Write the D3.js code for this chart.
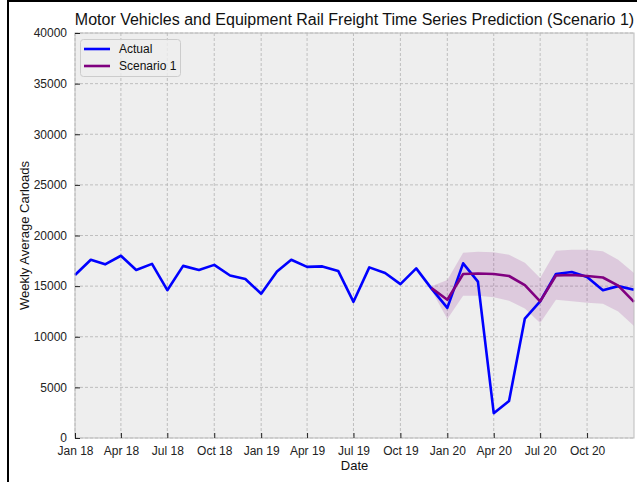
<!DOCTYPE html>
<html>
<head>
<meta charset="utf-8">
<script src="https://cdn.jsdelivr.net/npm/d3@7"></script>
<style>
  body { margin: 0; background: #fff; }
  svg { display: block; font-family: "Liberation Sans", Arial, sans-serif; }
</style>
</head>
<body>
<div id="chart"></div>
<script>
// canvas size
var w = 637;
var h = 482;

// monthly points, Jan 2018 .. Jan 2021
var months = ["2018-01","2018-02","2018-03","2018-04","2018-05","2018-06","2018-07","2018-08","2018-09","2018-10","2018-11","2018-12",
              "2019-01","2019-02","2019-03","2019-04","2019-05","2019-06","2019-07","2019-08","2019-09","2019-10","2019-11","2019-12",
              "2020-01","2020-02","2020-03","2020-04","2020-05","2020-06","2020-07","2020-08","2020-09","2020-10","2020-11","2020-12",
              "2021-01"];
var actual = [16100, 17600, 17150, 18000, 16600, 17200, 14600, 17000, 16600, 17100, 16050, 15700,
              14250, 16450, 17600, 16900, 16950, 16500, 13450, 16850, 16300, 15200, 16750, 14750,
              12850, 17250, 15450, 2450, 3650, 11800, 13500, 16200, 16400, 15900, 14600, 15000,
              14650];

// scenario 1 prediction starts at Dec 2019
var scenMonths = ["2019-12","2020-01","2020-02","2020-03","2020-04","2020-05","2020-06","2020-07","2020-08","2020-09","2020-10","2020-11","2020-12","2021-01"];
var scenario = [14800, 13650, 16200, 16250, 16200, 16000, 15100, 13500, 16050, 16100, 16000, 15850, 15050, 13450];
var scenUpper = [15000, 15600, 18300, 18400, 18350, 18100, 17300, 15800, 18500, 18600, 18600, 18450, 17600, 16300];
var scenLower = [14600, 11750, 14050, 14050, 13900, 13550, 12800, 11350, 13650, 13500, 13350, 13250, 12500, 11050];

// axis ticks
var xTicks = ["2018-01","2018-04","2018-07","2018-10","2019-01","2019-04","2019-07","2019-10","2020-01","2020-04","2020-07","2020-10"];
var yTicks = [0, 5000, 10000, 15000, 20000, 25000, 30000, 35000, 40000];

var parseMonth = d3.timeParse("%Y-%m");

// plot box
var pLeft = 75, pRight = 634, pTop = 33, pBottom = 438;

var x = d3.scaleTime()
  .domain([parseMonth("2018-01"), parseMonth("2021-01")])
  .range([pLeft, pRight]);

var y = d3.scaleLinear()
  .domain([0, 40000])
  .range([pBottom, pTop]);

var svg = d3.select("#chart")
  .append("svg")
  .attr("width", w)
  .attr("height", h);

// axes background
svg.append("rect")
  .attr("x", pLeft).attr("y", pTop)
  .attr("width", pRight - pLeft).attr("height", pBottom - pTop)
  .style("fill", "#eeeeee");

// grid
svg.append("g")
  .selectAll("line")
  .data(xTicks)
  .enter().append("line")
  .attr("x1", function(d) { return x(parseMonth(d)); })
  .attr("x2", function(d) { return x(parseMonth(d)); })
  .attr("y1", pTop).attr("y2", pBottom)
  .attr("stroke", "#b2b2b2").attr("stroke-width", 0.8)
  .attr("stroke-dasharray", "3,2");

svg.append("g")
  .selectAll("line")
  .data(yTicks)
  .enter().append("line")
  .attr("x1", pLeft).attr("x2", pRight)
  .attr("y1", function(d) { return y(d); })
  .attr("y2", function(d) { return y(d); })
  .attr("stroke", "#b2b2b2").attr("stroke-width", 0.8)
  .attr("stroke-dasharray", "3,2");

// confidence band
var band = scenMonths.map(function(m, i) {
  return { date: parseMonth(m), lo: scenLower[i], hi: scenUpper[i] };
});
svg.append("path")
  .datum(band)
  .attr("d", d3.area()
    .x(function(d) { return x(d.date); })
    .y0(function(d) { return y(d.lo); })
    .y1(function(d) { return y(d.hi); }))
  .style("fill", "#800080")
  .style("fill-opacity", 0.15);

// actual line
var actualData = months.map(function(m, i) { return [parseMonth(m), actual[i]]; });
var line = d3.line()
  .x(function(d) { return x(d[0]); })
  .y(function(d) { return y(d[1]); });

svg.append("path")
  .datum(actualData)
  .attr("d", line)
  .style("fill", "none")
  .style("stroke", "#0000ff")
  .style("stroke-width", 2.6)
  .style("stroke-linejoin", "round");

// scenario line
var scenData = scenMonths.map(function(m, i) { return [parseMonth(m), scenario[i]]; });
svg.append("path")
  .datum(scenData)
  .attr("d", line)
  .style("fill", "none")
  .style("stroke", "#800080")
  .style("stroke-width", 2.6)
  .style("stroke-linejoin", "round");

// spines
svg.append("rect")
  .attr("x", pLeft).attr("y", pTop)
  .attr("width", pRight - pLeft).attr("height", pBottom - pTop)
  .style("fill", "none")
  .style("stroke", "#bcbcbc")
  .style("stroke-width", 1);

// x axis (ticks inside)
var xAxis = d3.axisBottom(x)
  .tickValues(xTicks.map(parseMonth))
  .tickFormat(d3.timeFormat("%b %y"))
  .tickSizeInner(-5)
  .tickSizeOuter(0)
  .tickPadding(8);
var gx = svg.append("g")
  .attr("transform", "translate(0," + pBottom + ")")
  .call(xAxis);
gx.select(".domain").remove();
gx.selectAll("line").attr("stroke", "#222");
gx.selectAll("text").attr("font-size", "12px").attr("fill", "#222")
  .attr("font-family", "Liberation Sans, Arial, sans-serif");

// y axis (ticks inside)
var yAxis = d3.axisLeft(y)
  .tickValues(yTicks)
  .tickFormat(d3.format("d"))
  .tickSizeInner(-5)
  .tickSizeOuter(0)
  .tickPadding(8);
var gy = svg.append("g")
  .attr("transform", "translate(" + pLeft + ",0)")
  .call(yAxis);
gy.select(".domain").remove();
gy.selectAll("line").attr("stroke", "#222");
gy.selectAll("text").attr("font-size", "12px").attr("fill", "#222")
  .attr("font-family", "Liberation Sans, Arial, sans-serif");

// title and labels
svg.append("text")
  .attr("x", (pLeft + pRight) / 2)
  .attr("y", 25)
  .attr("text-anchor", "middle")
  .attr("font-size", "16px")
  .attr("fill", "#111")
  .text("Motor Vehicles and Equipment Rail Freight Time Series Prediction (Scenario 1)");

svg.append("text")
  .attr("x", (pLeft + pRight) / 2)
  .attr("y", 470)
  .attr("text-anchor", "middle")
  .attr("font-size", "13px")
  .attr("fill", "#111")
  .text("Date");

svg.append("text")
  .attr("transform", "translate(29," + ((pTop + pBottom) / 2) + ") rotate(-90)")
  .attr("text-anchor", "middle")
  .attr("font-size", "13px")
  .attr("fill", "#111")
  .text("Weekly Average Carloads");

// legend
var legendItems = [
  { name: "Actual", color: "#0000ff" },
  { name: "Scenario 1", color: "#800080" }
];
svg.append("rect")
  .attr("x", 80.5).attr("y", 39.5)
  .attr("width", 100).attr("height", 37)
  .attr("rx", 3).attr("ry", 3)
  .style("fill", "#eeeeee")
  .style("fill-opacity", 0.8)
  .style("stroke", "#cccccc");

var legend = svg.selectAll(".legend")
  .data(legendItems)
  .enter().append("g")
  .attr("class", "legend")
  .attr("transform", function(d, i) { return "translate(0," + (49 + i * 17) + ")"; });

legend.append("line")
  .attr("x1", 84).attr("x2", 110)
  .attr("y1", 0).attr("y2", 0)
  .style("stroke", function(d) { return d.color; })
  .style("stroke-width", 2.6);

legend.append("text")
  .attr("x", 119)
  .attr("y", 0)
  .attr("dy", ".35em")
  .attr("font-size", "12px")
  .attr("fill", "#111")
  .text(function(d) { return d.name; });

// screenshot frame
svg.append("line")
  .attr("x1", 8).attr("x2", 8).attr("y1", 0).attr("y2", h)
  .style("stroke", "#000").style("stroke-width", 2);
svg.append("line")
  .attr("x1", 8).attr("x2", w).attr("y1", 1).attr("y2", 1)
  .style("stroke", "#000").style("stroke-width", 2);
</script>
</body>
</html>
